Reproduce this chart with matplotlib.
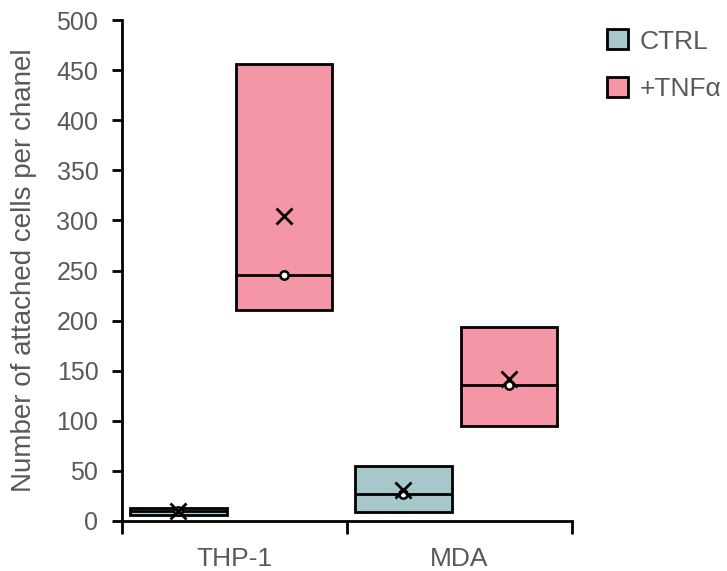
import matplotlib
matplotlib.use("Agg")
import matplotlib.pyplot as plt
from matplotlib.patches import Patch
import numpy as np

plt.rcParams["font.family"] = ["Liberation Sans", "DejaVu Sans"]

categories = ["THP-1", "MDA"]
series = ["CTRL", "+TNFα"]
ctrl_q1 = [6, 9]
ctrl_q3 = [13, 55]
ctrl_median = [10, 27]
ctrl_mean = [10, 31]
tnf_q1 = [211, 95]
tnf_q3 = [456, 194]
tnf_median = [246, 136]
tnf_mean = [304, 142]
yticks = [0, 50, 100, 150, 200, 250, 300, 350, 400, 450, 500]

colors = ["#A6C8CA", "#F596A6"]
gray = "#595959"

fig = plt.figure(figsize=(7.27, 5.71), dpi=100)
ax = fig.add_axes([122/727, 1-521/571, 450/727, 501/571])

x = np.arange(1, len(categories)+1)
offsets = [-0.249, 0.22]
width = 0.43
groups = [(ctrl_q1, ctrl_q3, ctrl_median, ctrl_mean), (tnf_q1, tnf_q3, tnf_median, tnf_mean)]
for (q1, q3, med, mean), off, col in zip(groups, offsets, colors):
    q1 = np.array(q1); q3 = np.array(q3)
    xs = x + off
    ax.bar(xs, q3-q1, bottom=q1, width=width, color=col, edgecolor="black", linewidth=2, zorder=2)
    ax.hlines(med, xs-width/2, xs+width/2, color="black", linewidth=2, zorder=3)
    ax.plot(xs, med, "o", ms=6, mfc="white", mec="black", mew=1.8, zorder=4, linestyle="none")
    ax.plot(xs, mean, "x", ms=12, mec="black", mew=2, zorder=5, linestyle="none")

ax.set_xlim(0.5, 2.5)
ax.set_ylim(0, 500)
ax.set_yticks(yticks)
ax.set_xticks(x)
ax.set_xticklabels(categories)
ax.set_xticks([0.5, 1.5, 2.5], minor=True)
ax.tick_params(axis="x", which="major", length=0, pad=19, labelsize=19, labelcolor=gray)
ax.tick_params(axis="x", which="minor", length=9, width=2, direction="out")
ax.tick_params(axis="y", length=7, width=2, direction="out", labelsize=18, labelcolor=gray, pad=10)
for s in ["top", "right"]:
    ax.spines[s].set_visible(False)
ax.spines["left"].set_linewidth(2)
ax.spines["bottom"].set_linewidth(2)
ax.spines["left"].set_bounds(0, 500)
ax.set_ylabel("Number of attached cells per chanel", fontsize=20, color=gray, labelpad=14)

handles = [Patch(facecolor=c, edgecolor="black", linewidth=2) for c in colors]
leg = fig.legend(handles, series, loc="upper left", bbox_to_anchor=(0.821, 0.967),
                 frameon=False, fontsize=19, handlelength=0.78, handleheight=0.78,
                 labelspacing=0.89, handletextpad=0.45, borderaxespad=0)
for t in leg.get_texts():
    t.set_color(gray)

fig.savefig("out.png", dpi=100)
